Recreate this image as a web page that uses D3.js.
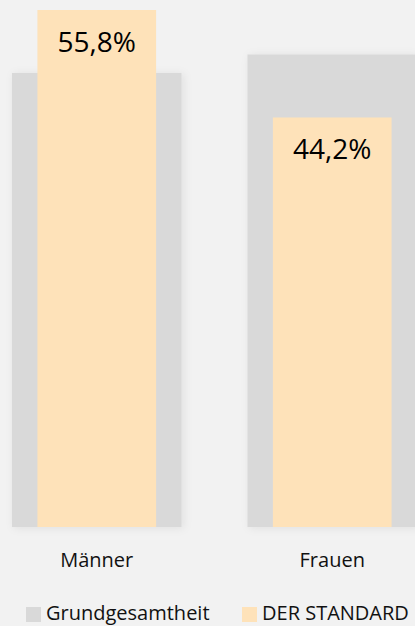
<!DOCTYPE html>
<meta charset="utf-8">
<style>
body { margin: 0; background: #f2f2f2; }
svg { display: block; font-family: "Open Sans", sans-serif; }
.value { font-size: 28px; fill: #000; }
.cat { font-size: 20px; fill: #111; }
.legend text { font-size: 20px; fill: #111; }
</style>
<body>
<svg width="415" height="626"></svg>
<script src="https://d3js.org/d3.v7.min.js"></script>
<script>

var categories = ["Männer", "Frauen"];
var grundgesamtheit = [49.0, 51.0];
var derStandard = [55.8, 44.2];
var valueLabels = ["55,8%", "44,2%"];
var seriesNames = ["Grundgesamtheit", "DER STANDARD"];

var svg = d3.select("svg"),
    width = +svg.attr("width"),
    height = +svg.attr("height");

var colors = ["#d9d9d9", "#fee2b9"];

var x = d3.scaleBand()
    .domain(categories)
    .range([12, 417])
    .paddingInner(0.28)
    .paddingOuter(0);

var y = d3.scaleLinear()
    .domain([0, 55.8])
    .range([527, 10]);

var defs = svg.append("defs");
var f = defs.append("filter")
    .attr("id", "shadow")
    .attr("x", "-20%").attr("y", "-20%")
    .attr("width", "140%").attr("height", "140%");
f.append("feDropShadow")
    .attr("dx", 2).attr("dy", 1)
    .attr("stdDeviation", 4)
    .attr("flood-color", "#000")
    .attr("flood-opacity", 0.08);

// grey bars (Grundgesamtheit)
svg.append("g")
  .selectAll("rect")
  .data(categories)
  .enter().append("rect")
    .attr("x", function(d) { return x(d); })
    .attr("width", x.bandwidth())
    .attr("y", function(d, i) { return y(grundgesamtheit[i]); })
    .attr("height", function(d, i) { return y(0) - y(grundgesamtheit[i]); })
    .attr("fill", colors[0])
    .attr("filter", "url(#shadow)");

// orange bars (DER STANDARD)
var inner = x.bandwidth() * 0.7;
svg.append("g")
  .selectAll("rect")
  .data(categories)
  .enter().append("rect")
    .attr("x", function(d) { return x(d) + (x.bandwidth() - inner) / 2; })
    .attr("width", inner)
    .attr("y", function(d, i) { return y(derStandard[i]); })
    .attr("height", function(d, i) { return y(0) - y(derStandard[i]); })
    .attr("fill", colors[1]);

svg.append("g")
  .selectAll("text")
  .data(categories)
  .enter().append("text")
    .attr("class", "value")
    .attr("x", function(d) { return x(d) + x.bandwidth() / 2; })
    .attr("y", function(d, i) { return y(derStandard[i]) + 42; })
    .attr("text-anchor", "middle")
    .text(function(d, i) { return valueLabels[i]; });

// category labels
svg.append("g")
  .selectAll("text")
  .data(categories)
  .enter().append("text")
    .attr("class", "cat")
    .attr("x", function(d) { return x(d) + x.bandwidth() / 2; })
    .attr("y", 567)
    .attr("text-anchor", "middle")
    .text(function(d) { return d; });

// legend
var legendX = [26, 242];
var lg = svg.append("g").attr("class", "legend")
  .selectAll("g")
  .data(seriesNames)
  .enter().append("g")
    .attr("transform", function(d, i) { return "translate(" + legendX[i] + ",607)"; });
lg.append("rect")
    .attr("width", 15).attr("height", 15)
    .attr("fill", function(d, i) { return colors[i]; });
lg.append("text")
    .attr("x", 20).attr("y", 13)
    .text(function(d) { return d; });

</script>
</body>
